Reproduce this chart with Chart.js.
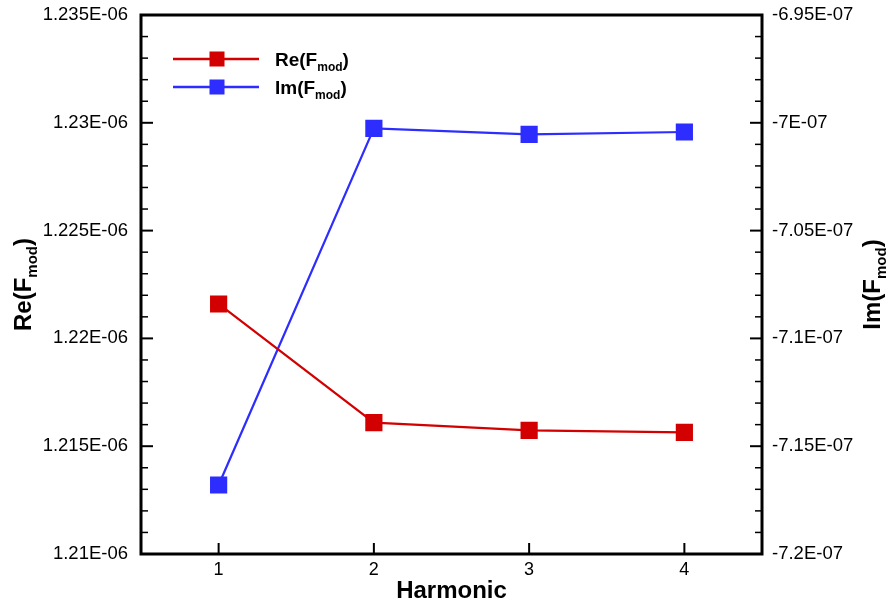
<!DOCTYPE html>
<html>
<head>
<meta charset="utf-8">
<script src="https://cdn.jsdelivr.net/npm/chart.js@4.4.0/dist/chart.umd.min.js"></script>
<style>
  body { margin: 0; background: #fff; }
  canvas { display: block; }
</style>
</head>
<body>
<canvas id="harmonicChart" width="888" height="603"></canvas>
<script>
// ---------- data ----------
const harmonics = [1, 2, 3, 4];
const reValues = [1.221596e-6, 1.216090e-6, 1.215737e-6, 1.215645e-6];
const imValues = [-7.1680e-7, -7.00255e-7, -7.00533e-7, -7.00427e-7];

const xTicks = [1, 2, 3, 4];
const leftTicks = [1.21e-6, 1.215e-6, 1.22e-6, 1.225e-6, 1.23e-6, 1.235e-6];
const leftTickLabels = ['1.21E-06', '1.215E-06', '1.22E-06', '1.225E-06', '1.23E-06', '1.235E-06'];
const rightTicks = [-7.2e-7, -7.15e-7, -7.1e-7, -7.05e-7, -7e-7, -6.95e-7];
const rightTickLabels = ['-7.2E-07', '-7.15E-07', '-7.1E-07', '-7.05E-07', '-7E-07', '-6.95E-07'];

const RED = '#d20000';
const BLUE = '#2d2dff';
const FONT = "'Liberation Sans', Arial, sans-serif";

// draws "Re(F" + subscript "mod" + ")" starting at x (or centred on it)
function drawSubText(ctx, x, y, main, sub, size, subSize, center) {
  const big = 'bold ' + size + 'px ' + FONT;
  const small = 'bold ' + subSize + 'px ' + FONT;
  ctx.font = big;
  const w1 = ctx.measureText(main).width;
  const w3 = ctx.measureText(')').width;
  ctx.font = small;
  const w2 = ctx.measureText(sub).width;
  let cx = center ? x - (w1 + w2 + w3) / 2 : x;
  ctx.textBaseline = 'alphabetic';
  ctx.textAlign = 'left';
  ctx.font = big;
  ctx.fillText(main, cx, y);
  ctx.font = small;
  ctx.fillText(sub, cx + w1, y + subSize * 0.4);
  ctx.font = big;
  ctx.fillText(')', cx + w1 + w2, y);
}

// ---------- frame, inward ticks, titles, legend ----------
const decorPlugin = {
  id: 'decor',
  afterDraw(chart) {
    const { ctx, chartArea: a, scales } = chart;
    ctx.save();
    ctx.strokeStyle = '#000';

    const line = (x1, y1, x2, y2) => {
      ctx.beginPath(); ctx.moveTo(x1, y1); ctx.lineTo(x2, y2); ctx.stroke();
    };
    const vTicks = (scale, vals, edge, dir) => {
      for (let i = 0; i < vals.length; i++) {
        const py = scale.getPixelForValue(vals[i]);
        ctx.lineWidth = 2;
        line(edge, py, edge + dir * 12, py);
        if (i < vals.length - 1) {
          ctx.lineWidth = 1.5;
          for (let k = 1; k < 5; k++) {
            const v = vals[i] + (vals[i + 1] - vals[i]) * k / 5;
            const p = scale.getPixelForValue(v);
            line(edge, p, edge + dir * 7, p);
          }
        }
      }
    };
    vTicks(scales.y, leftTicks, a.left, 1);
    vTicks(scales.y2, rightTicks, a.right, -1);
    ctx.lineWidth = 2;
    xTicks.forEach(v => {
      const px = scales.x.getPixelForValue(v);
      line(px, a.bottom, px, a.bottom - 11);
    });

    ctx.lineWidth = 3;
    ctx.strokeRect(a.left, a.top, a.right - a.left, a.bottom - a.top);

    // axis titles
    ctx.fillStyle = '#000';
    ctx.font = 'bold 24px ' + FONT;
    ctx.textAlign = 'center';
    ctx.textBaseline = 'alphabetic';
    ctx.fillText('Harmonic', (a.left + a.right) / 2, 598);

    const midY = (a.top + a.bottom) / 2;
    ctx.save();
    ctx.translate(31, midY);
    ctx.rotate(-Math.PI / 2);
    drawSubText(ctx, 0, 0, 'Re(F', 'mod', 24, 15, true);
    ctx.restore();

    ctx.save();
    ctx.translate(880, midY);
    ctx.rotate(-Math.PI / 2);
    drawSubText(ctx, 0, 0, 'Im(F', 'mod', 24, 15, true);
    ctx.restore();

    // legend
    const rows = [
      { color: RED, main: 'Re(F', y: 59 },
      { color: BLUE, main: 'Im(F', y: 87 }
    ];
    rows.forEach(r => {
      ctx.strokeStyle = r.color;
      ctx.lineWidth = 2.5;
      line(173, r.y, 259, r.y);
      ctx.fillStyle = r.color;
      ctx.fillRect(217 - 7.5, r.y - 7.5, 15, 15);
      ctx.fillStyle = '#000';
      drawSubText(ctx, 275, r.y + 7, r.main, 'mod', 19, 12, false);
    });
    ctx.restore();
  }
};

const noPadY = s => { s.paddingTop = 0; s.paddingBottom = 0; };

const ctx = document.getElementById('harmonicChart').getContext('2d');
new Chart(ctx, {
  type: 'line',
  data: {
    datasets: [{
      label: 'Re(Fmod)',
      data: harmonics.map((h, i) => ({ x: h, y: reValues[i] })),
      borderColor: RED,
      backgroundColor: RED,
      borderWidth: 2.2,
      pointStyle: 'rect',
      pointRadius: 10.6,
      pointHoverRadius: 10.6,
      yAxisID: 'y',
      tension: 0
    }, {
      label: 'Im(Fmod)',
      data: harmonics.map((h, i) => ({ x: h, y: imValues[i] })),
      borderColor: BLUE,
      backgroundColor: BLUE,
      borderWidth: 2.2,
      pointStyle: 'rect',
      pointRadius: 10.6,
      pointHoverRadius: 10.6,
      yAxisID: 'y2',
      tension: 0
    }]
  },
  options: {
    responsive: false,
    animation: false,
    layout: { padding: { top: 15, left: 0, right: 0, bottom: 0 } },
    plugins: { legend: { display: false }, tooltip: { enabled: false } },
    scales: {
      x: {
        type: 'linear',
        min: 0.5,
        max: 4.5,
        grid: { display: false, drawTicks: false },
        border: { display: false },
        afterBuildTicks: s => { s.ticks = xTicks.map(v => ({ value: v })); },
        afterFit: s => { s.height = 49; s.paddingLeft = 0; s.paddingRight = 0; },
        ticks: { padding: 5, color: '#000', font: { family: FONT, size: 18 }, callback: v => String(v) }
      },
      y: {
        position: 'left',
        min: leftTicks[0],
        max: leftTicks[leftTicks.length - 1],
        grid: { display: false, drawTicks: false },
        border: { display: false },
        afterBuildTicks: s => { s.ticks = leftTicks.map(v => ({ value: v })); },
        afterFit: s => { s.width = 141; noPadY(s); },
        ticks: { padding: 13, color: '#000', font: { family: FONT, size: 18.5 }, autoSkip: false,
          callback: (v, i) => leftTickLabels[i] }
      },
      y2: {
        position: 'right',
        min: rightTicks[0],
        max: rightTicks[rightTicks.length - 1],
        grid: { display: false, drawTicks: false },
        border: { display: false },
        afterBuildTicks: s => { s.ticks = rightTicks.map(v => ({ value: v })); },
        afterFit: s => { s.width = 126; noPadY(s); },
        ticks: { padding: 10, color: '#000', font: { family: FONT, size: 18.5 }, autoSkip: false,
          callback: (v, i) => rightTickLabels[i] }
      }
    }
  },
  plugins: [decorPlugin]
});
</script>
</body>
</html>
